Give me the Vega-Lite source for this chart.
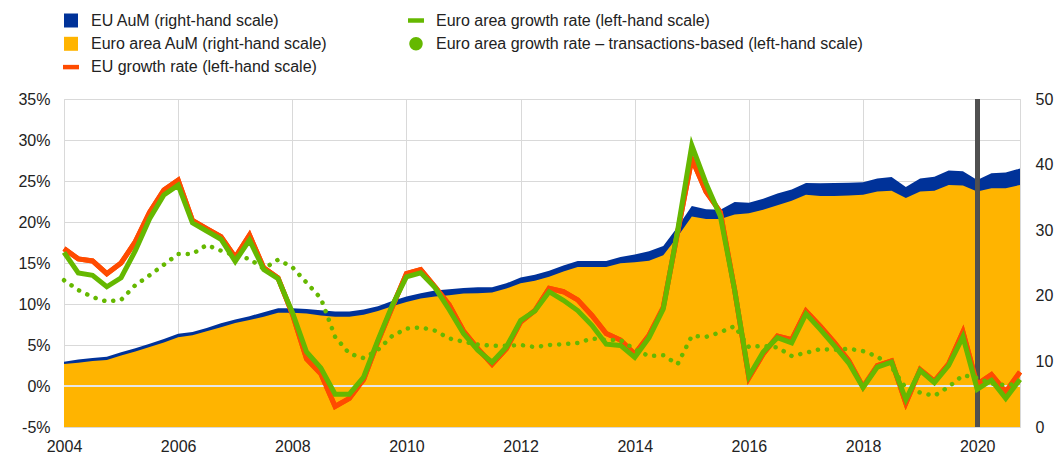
{
  "$schema": "https://vega.github.io/schema/vega-lite/v6.json",
  "width": 956,
  "height": 328,
  "autosize": {"type": "none"},
  "padding": {"left": 64, "top": 99, "right": 41, "bottom": 28},
  "background": "white",
  "config": {
    "font": "Liberation Sans",
    "view": {"stroke": "#d9d9d9", "strokeWidth": 1},
    "axis": {"domain": false, "ticks": false, "labelFont": "Liberation Sans", "labelFontSize": 16, "labelColor": "#222222", "gridColor": "#d9d9d9", "gridWidth": 1, "title": null, "labelFlush": false}
  },
  "datasets": {
    "main": [
      {"year": 2004, "eu_aum": 9.95, "ea_aum": 9.6, "eu_g": 16.75, "ea_g": 16.3, "ea_tg": 12.9},
      {"year": 2004.25, "eu_aum": 10.3, "ea_aum": 9.8, "eu_g": 15.5, "ea_g": 13.8, "ea_tg": 11.7},
      {"year": 2004.5, "eu_aum": 10.5, "ea_aum": 10.05, "eu_g": 15.25, "ea_g": 13.5, "ea_tg": 10.85},
      {"year": 2004.75, "eu_aum": 10.7, "ea_aum": 10.2, "eu_g": 13.7, "ea_g": 12.1, "ea_tg": 10.3},
      {"year": 2005, "eu_aum": 11.4, "ea_aum": 10.9, "eu_g": 15.0, "ea_g": 13.2, "ea_tg": 10.5},
      {"year": 2005.25, "eu_aum": 12.0, "ea_aum": 11.5, "eu_g": 17.6, "ea_g": 16.5, "ea_tg": 12.3},
      {"year": 2005.5, "eu_aum": 12.7, "ea_aum": 12.2, "eu_g": 21.2, "ea_g": 20.4, "ea_tg": 13.5},
      {"year": 2005.75, "eu_aum": 13.4, "ea_aum": 12.9, "eu_g": 23.9, "ea_g": 23.3, "ea_tg": 14.8},
      {"year": 2006, "eu_aum": 14.2, "ea_aum": 13.7, "eu_g": 25.1, "ea_g": 24.5, "ea_tg": 16.1},
      {"year": 2006.25, "eu_aum": 14.5, "ea_aum": 14.0, "eu_g": 20.2, "ea_g": 19.9, "ea_tg": 16.1},
      {"year": 2006.5, "eu_aum": 15.1, "ea_aum": 14.6, "eu_g": 19.2, "ea_g": 18.9, "ea_tg": 17.2},
      {"year": 2006.75, "eu_aum": 15.8, "ea_aum": 15.2, "eu_g": 18.2, "ea_g": 17.9, "ea_tg": 16.5},
      {"year": 2007, "eu_aum": 16.4, "ea_aum": 15.85, "eu_g": 15.7, "ea_g": 15.2, "ea_tg": 15.9},
      {"year": 2007.25, "eu_aum": 16.9, "ea_aum": 16.3, "eu_g": 18.4, "ea_g": 17.8, "ea_tg": 15.5},
      {"year": 2007.5, "eu_aum": 17.5, "ea_aum": 16.8, "eu_g": 14.4, "ea_g": 14.2, "ea_tg": 14.3},
      {"year": 2007.75, "eu_aum": 18.1, "ea_aum": 17.4, "eu_g": 13.2, "ea_g": 13.1, "ea_tg": 15.4},
      {"year": 2008, "eu_aum": 18.1, "ea_aum": 17.4, "eu_g": 8.8, "ea_g": 9.0, "ea_tg": 14.5},
      {"year": 2008.25, "eu_aum": 18.0, "ea_aum": 17.3, "eu_g": 3.3, "ea_g": 4.15, "ea_tg": 12.6},
      {"year": 2008.5, "eu_aum": 17.8, "ea_aum": 17.0, "eu_g": 1.5, "ea_g": 2.2, "ea_tg": 10.7},
      {"year": 2008.75, "eu_aum": 17.6, "ea_aum": 16.8, "eu_g": -2.5, "ea_g": -1.0, "ea_tg": 6.0},
      {"year": 2009, "eu_aum": 17.6, "ea_aum": 16.8, "eu_g": -1.5, "ea_g": -1.0, "ea_tg": 3.95},
      {"year": 2009.25, "eu_aum": 17.9, "ea_aum": 17.1, "eu_g": 0.8, "ea_g": 1.1, "ea_tg": 3.4},
      {"year": 2009.5, "eu_aum": 18.4, "ea_aum": 17.7, "eu_g": 5.4, "ea_g": 5.6, "ea_tg": 4.4},
      {"year": 2009.75, "eu_aum": 19.2, "ea_aum": 18.4, "eu_g": 9.6, "ea_g": 9.8, "ea_tg": 6.1},
      {"year": 2010, "eu_aum": 19.9, "ea_aum": 19.05, "eu_g": 13.7, "ea_g": 13.3, "ea_tg": 7.0},
      {"year": 2010.25, "eu_aum": 20.4, "ea_aum": 19.6, "eu_g": 14.2, "ea_g": 13.8, "ea_tg": 7.15},
      {"year": 2010.5, "eu_aum": 20.8, "ea_aum": 19.9, "eu_g": 12.1, "ea_g": 12.0, "ea_tg": 6.75},
      {"year": 2010.75, "eu_aum": 21.0, "ea_aum": 20.1, "eu_g": 9.9, "ea_g": 9.3, "ea_tg": 5.8},
      {"year": 2011, "eu_aum": 21.2, "ea_aum": 20.35, "eu_g": 6.7, "ea_g": 6.4, "ea_tg": 5.4},
      {"year": 2011.25, "eu_aum": 21.3, "ea_aum": 20.4, "eu_g": 4.55, "ea_g": 4.35, "ea_tg": 5.05},
      {"year": 2011.5, "eu_aum": 21.3, "ea_aum": 20.5, "eu_g": 2.65, "ea_g": 2.9, "ea_tg": 4.9},
      {"year": 2011.75, "eu_aum": 21.9, "ea_aum": 21.1, "eu_g": 4.55, "ea_g": 4.75, "ea_tg": 4.9},
      {"year": 2012, "eu_aum": 22.8, "ea_aum": 21.9, "eu_g": 7.8, "ea_g": 8.0, "ea_tg": 5.0},
      {"year": 2012.25, "eu_aum": 23.2, "ea_aum": 22.3, "eu_g": 9.2, "ea_g": 9.15, "ea_tg": 4.75},
      {"year": 2012.5, "eu_aum": 23.8, "ea_aum": 22.9, "eu_g": 11.9, "ea_g": 11.5, "ea_tg": 5.0},
      {"year": 2012.75, "eu_aum": 24.6, "ea_aum": 23.7, "eu_g": 11.5, "ea_g": 10.45, "ea_tg": 5.1},
      {"year": 2013, "eu_aum": 25.3, "ea_aum": 24.4, "eu_g": 10.5, "ea_g": 9.2, "ea_tg": 5.25},
      {"year": 2013.25, "eu_aum": 25.3, "ea_aum": 24.4, "eu_g": 8.6, "ea_g": 7.4, "ea_tg": 5.8},
      {"year": 2013.5, "eu_aum": 25.3, "ea_aum": 24.4, "eu_g": 6.4, "ea_g": 5.1, "ea_tg": 5.6},
      {"year": 2013.75, "eu_aum": 25.9, "ea_aum": 24.95, "eu_g": 5.6, "ea_g": 4.95, "ea_tg": 5.6},
      {"year": 2014, "eu_aum": 26.3, "ea_aum": 25.1, "eu_g": 3.9, "ea_g": 3.5, "ea_tg": 4.45},
      {"year": 2014.25, "eu_aum": 26.8, "ea_aum": 25.35, "eu_g": 6.2, "ea_g": 5.9, "ea_tg": 3.65},
      {"year": 2014.5, "eu_aum": 27.6, "ea_aum": 26.2, "eu_g": 9.6, "ea_g": 9.4, "ea_tg": 3.75},
      {"year": 2014.75, "eu_aum": 30.5, "ea_aum": 29.0, "eu_g": 18.7, "ea_g": 18.9, "ea_tg": 2.65},
      {"year": 2015, "eu_aum": 33.7, "ea_aum": 32.1, "eu_g": 27.7, "ea_g": 29.35, "ea_tg": 6.1},
      {"year": 2015.25, "eu_aum": 33.2, "ea_aum": 31.7, "eu_g": 23.7, "ea_g": 24.7, "ea_tg": 6.0},
      {"year": 2015.5, "eu_aum": 33.1, "ea_aum": 31.7, "eu_g": 21.2, "ea_g": 20.7, "ea_tg": 6.55},
      {"year": 2015.75, "eu_aum": 34.3, "ea_aum": 32.4, "eu_g": 11.7, "ea_g": 11.7, "ea_tg": 7.3},
      {"year": 2016, "eu_aum": 34.2, "ea_aum": 32.6, "eu_g": 1.0, "ea_g": 1.2, "ea_tg": 4.75},
      {"year": 2016.25, "eu_aum": 34.8, "ea_aum": 33.1, "eu_g": 3.9, "ea_g": 4.15, "ea_tg": 4.9},
      {"year": 2016.5, "eu_aum": 35.6, "ea_aum": 33.8, "eu_g": 6.1, "ea_g": 5.9, "ea_tg": 4.7},
      {"year": 2016.75, "eu_aum": 36.2, "ea_aum": 34.5, "eu_g": 5.65, "ea_g": 5.25, "ea_tg": 3.65},
      {"year": 2017, "eu_aum": 37.2, "ea_aum": 35.4, "eu_g": 9.15, "ea_g": 8.8, "ea_tg": 4.05},
      {"year": 2017.25, "eu_aum": 37.15, "ea_aum": 35.2, "eu_g": 7.3, "ea_g": 6.9, "ea_tg": 4.5},
      {"year": 2017.5, "eu_aum": 37.2, "ea_aum": 35.2, "eu_g": 5.3, "ea_g": 4.9, "ea_tg": 4.4},
      {"year": 2017.75, "eu_aum": 37.25, "ea_aum": 35.3, "eu_g": 3.1, "ea_g": 2.8, "ea_tg": 4.55},
      {"year": 2018, "eu_aum": 37.3, "ea_aum": 35.4, "eu_g": -0.1, "ea_g": -0.2, "ea_tg": 4.25},
      {"year": 2018.25, "eu_aum": 37.9, "ea_aum": 35.9, "eu_g": 2.5, "ea_g": 2.3, "ea_tg": 3.6},
      {"year": 2018.5, "eu_aum": 38.1, "ea_aum": 36.0, "eu_g": 3.05, "ea_g": 2.9, "ea_tg": 2.3},
      {"year": 2018.75, "eu_aum": 36.6, "ea_aum": 34.9, "eu_g": -2.1, "ea_g": -1.65, "ea_tg": -0.25},
      {"year": 2019, "eu_aum": 37.9, "ea_aum": 35.9, "eu_g": 2.0, "ea_g": 1.9, "ea_tg": -0.8},
      {"year": 2019.25, "eu_aum": 38.15, "ea_aum": 36.0, "eu_g": 0.6, "ea_g": 0.4, "ea_tg": -1.2},
      {"year": 2019.5, "eu_aum": 39.1, "ea_aum": 36.9, "eu_g": 2.7, "ea_g": 2.5, "ea_tg": -0.1},
      {"year": 2019.75, "eu_aum": 39.0, "ea_aum": 36.8, "eu_g": 6.6, "ea_g": 6.0, "ea_tg": 1.3},
      {"year": 2020, "eu_aum": 37.65, "ea_aum": 35.9, "eu_g": 0.2, "ea_g": -0.4, "ea_tg": 1.0},
      {"year": 2020.25, "eu_aum": 38.7, "ea_aum": 36.4, "eu_g": 1.4, "ea_g": 0.7, "ea_tg": 0.3},
      {"year": 2020.5, "eu_aum": 38.8, "ea_aum": 36.4, "eu_g": -0.7, "ea_g": -1.5, "ea_tg": 0.1},
      {"year": 2020.75, "eu_aum": 39.4, "ea_aum": 36.9, "eu_g": 1.7, "ea_g": 0.8, "ea_tg": 0.3}
    ],
    "legend": [
      {"series": "EU AuM (right-hand scale)", "year": 2004, "v": 0},
      {"series": "Euro area AuM (right-hand scale)", "year": 2004, "v": 0},
      {"series": "EU growth rate (left-hand scale)", "year": 2004, "v": 0},
      {"series": "Euro area growth rate (left-hand scale)", "year": 2004, "v": 0},
      {"series": "Euro area growth rate – transactions-based (left-hand scale)", "year": 2004, "v": 0}
    ]
  },
  "data": {"name": "main"},
  "layer": [
    {
      "encoding": {
        "x": {"field": "year", "type": "quantitative", "scale": {"domain": [2004, 2020.75], "nice": false, "zero": false},
              "axis": {"values": [2004, 2006, 2008, 2010, 2012, 2014, 2016, 2018, 2020], "format": "d", "labelPadding": 11, "labelFlush": false, "grid": true, "gridColor": "#d9d9d9", "title": null}},
        "y": {"type": "quantitative", "scale": {"domain": [0, 50], "nice": false, "zero": false},
              "axis": {"orient": "right", "values": [0, 10, 20, 30, 40, 50], "grid": false, "labelPadding": 15, "title": null}}
      },
      "layer": [
        {"mark": {"type": "area", "color": "#003299", "opacity": 1}, "encoding": {"y": {"field": "eu_aum", "type": "quantitative"}}},
        {"mark": {"type": "area", "color": "#ffb400", "opacity": 1}, "encoding": {"y": {"field": "ea_aum", "type": "quantitative"}}}
      ]
    },
    {
      "layer": [
        {"mark": {"type": "line", "color": "#ff4b00", "strokeWidth": 5},
         "encoding": {
           "x": {"field": "year", "type": "quantitative"},
           "y": {"field": "eu_g", "type": "quantitative", "scale": {"domain": [-5, 35], "nice": false, "zero": false},
                 "axis": {"orient": "left", "values": [-5, 0, 5, 10, 15, 20, 25, 30, 35], "labelExpr": "datum.value + '%'", "grid": true, "labelPadding": 14, "title": null}}
         }},
        {"mark": {"type": "rule", "color": "#e6e6e6", "strokeWidth": 1.5}, "encoding": {"y": {"datum": 0}}},
        {"mark": {"type": "rule", "color": "#505050", "strokeWidth": 4}, "encoding": {"x": {"datum": 2020}}},
        {"mark": {"type": "line", "color": "#ff4b00", "strokeWidth": 5},
         "encoding": {"x": {"field": "year", "type": "quantitative"}, "y": {"field": "eu_g", "type": "quantitative"}}},
        {"mark": {"type": "line", "color": "#65b800", "strokeWidth": 5},
         "encoding": {"x": {"field": "year", "type": "quantitative"}, "y": {"field": "ea_g", "type": "quantitative"}}},
        {"mark": {"type": "line", "color": "#65b800", "strokeWidth": 4.5, "strokeDash": [0.1, 9], "strokeCap": "round"},
         "encoding": {"x": {"field": "year", "type": "quantitative"}, "y": {"field": "ea_tg", "type": "quantitative"}}},
        {"data": {"name": "legend"},
         "mark": {"type": "point", "filled": true, "opacity": 0},
         "encoding": {
           "x": {"field": "year", "type": "quantitative"},
           "y": {"field": "v", "type": "quantitative"},
           "color": {"field": "series", "type": "nominal",
             "scale": {"domain": ["EU AuM (right-hand scale)", "Euro area AuM (right-hand scale)", "EU growth rate (left-hand scale)", "Euro area growth rate (left-hand scale)", "Euro area growth rate – transactions-based (left-hand scale)"],
                       "range": ["#003299", "#ffb400", "#ff4b00", "#65b800", "#65b800"]},
             "legend": {"title": null, "orient": "none", "legendX": -1, "legendY": -86.5, "columns": 2, "columnPadding": 80, "rowPadding": 7.3, "symbolSize": 196, "labelFontSize": 16, "labelFont": "Liberation Sans", "labelColor": "#222222", "labelOffset": 12, "labelLimit": 600, "symbolStrokeWidth": 0, "padding": 0, "symbolOpacity": 1}},
           "shape": {"field": "series", "type": "nominal",
             "scale": {"domain": ["EU AuM (right-hand scale)", "Euro area AuM (right-hand scale)", "EU growth rate (left-hand scale)", "Euro area growth rate (left-hand scale)", "Euro area growth rate – transactions-based (left-hand scale)"],
                       "range": ["M-1,-1H1V1H-1Z", "M-1,-1H1V1H-1Z", "M-1.14,-0.32H1.14V0.32H-1.14Z", "M-1.14,-0.32H1.14V0.32H-1.14Z", "M0,-0.96A0.96,0.96,0,1,1,0,0.96A0.96,0.96,0,1,1,0,-0.96Z"]},
             "legend": {"title": null, "orient": "none", "legendX": -1, "legendY": -86.5, "columns": 2, "columnPadding": 80, "rowPadding": 7.3, "symbolSize": 196, "labelFontSize": 16, "labelFont": "Liberation Sans", "labelColor": "#222222", "labelOffset": 12, "labelLimit": 600, "symbolStrokeWidth": 0, "padding": 0, "symbolOpacity": 1}}
         }}
      ]
    }
  ],
  "resolve": {"scale": {"y": "independent"}}
}
